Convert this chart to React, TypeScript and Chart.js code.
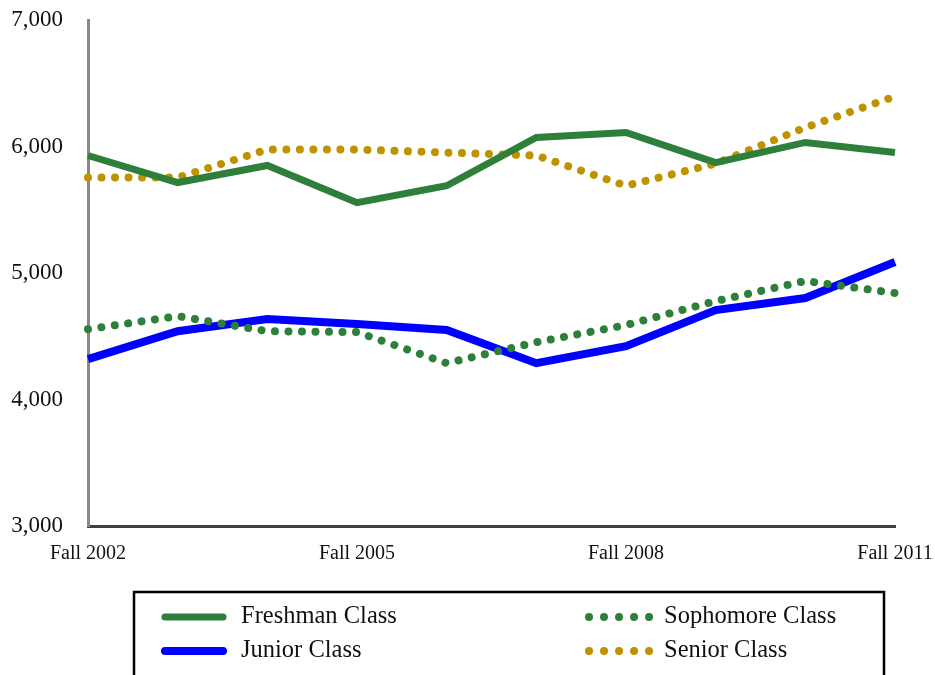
import React, { useEffect, useRef } from "react";
import { Chart, registerables } from "chart.js";

Chart.register(...registerables);

const categories = [
  "Fall 2002", "Fall 2003", "Fall 2004", "Fall 2005", "Fall 2006",
  "Fall 2007", "Fall 2008", "Fall 2009", "Fall 2010", "Fall 2011",
];
const freshman = [5929, 5715, 5850, 5556, 5690, 6071, 6111, 5873, 6032, 5952];
const sophomore = [4556, 4659, 4540, 4533, 4287, 4453, 4588, 4778, 4937, 4842];
const junior = [4319, 4540, 4636, 4596, 4549, 4287, 4422, 4707, 4802, 5087];
const senior = [5754, 5754, 5976, 5976, 5952, 5929, 5690, 5865, 6150, 6396];
const yTicks = [3000, 4000, 5000, 6000, 7000];
const shownXLabels = ["Fall 2002", "Fall 2005", "Fall 2008", "Fall 2011"];

const GREEN = "#2E7F3A";
const BLUE = "#0000FF";
const GOLD = "#BF9300";
const FONT = "'Liberation Serif', 'DejaVu Serif', serif";

const legendPlugin = {
  id: "boxLegend",
  afterDraw(chart: any) {
    const ctx = chart.ctx;
    ctx.save();
    ctx.strokeStyle = "#000";
    ctx.lineWidth = 2.5;
    ctx.strokeRect(134, 592, 750, 100);
    const pos = [
      { sx: 162, tx: 241, y: 617 },
      { sx: 586, tx: 664, y: 617 },
      { sx: 162, tx: 241, y: 651 },
      { sx: 586, tx: 664, y: 651 },
    ];
    [0, 1, 2, 3].forEach((di, i) => {
      const ds = chart.data.datasets[di];
      const p = pos[i];
      ctx.beginPath();
      ctx.strokeStyle = ds.borderColor;
      ctx.lineWidth = ds.borderWidth;
      ctx.lineCap = "round";
      if (ds.borderDash && ds.borderDash.length) {
        ctx.setLineDash([0.01, 15]);
        ctx.moveTo(p.sx + 3, p.y);
        ctx.lineTo(p.sx + 64, p.y);
      } else {
        ctx.setLineDash([]);
        ctx.moveTo(p.sx + 3, p.y);
        ctx.lineTo(p.sx + 61, p.y);
      }
      ctx.stroke();
      ctx.setLineDash([]);
      ctx.fillStyle = "#111";
      ctx.font = `24.5px ${FONT}`;
      ctx.textBaseline = "middle";
      ctx.textAlign = "left";
      ctx.fillText(ds.label, p.tx, p.y);
    });
    ctx.restore();
  },
};

export default function App() {
  const ref = useRef<HTMLCanvasElement | null>(null);
  useEffect(() => {
    document.body.style.margin = "0";
    const canvas = ref.current!;
    const chart = new Chart(canvas, {
      type: "line",
      data: {
        labels: categories,
        datasets: [
          {
            label: "Freshman Class",
            data: freshman,
            borderColor: GREEN,
            backgroundColor: GREEN,
            borderWidth: 7,
            pointRadius: 0,
            tension: 0,
            borderJoinStyle: "miter",
          },
          {
            label: "Sophomore Class",
            data: sophomore,
            borderColor: GREEN,
            backgroundColor: GREEN,
            borderWidth: 8,
            borderDash: [0.01, 13.5],
            borderCapStyle: "round",
            pointRadius: 0,
            tension: 0,
          },
          {
            label: "Junior Class",
            data: junior,
            borderColor: BLUE,
            backgroundColor: BLUE,
            borderWidth: 8,
            pointRadius: 0,
            tension: 0,
            borderJoinStyle: "miter",
          },
          {
            label: "Senior Class",
            data: senior,
            borderColor: GOLD,
            backgroundColor: GOLD,
            borderWidth: 8,
            borderDash: [0.01, 13.5],
            borderCapStyle: "round",
            pointRadius: 0,
            tension: 0,
          },
        ] as any,
      },
      options: {
        responsive: false,
        animation: false,
        devicePixelRatio: 1,
        layout: { padding: { top: 20, right: 40, left: 0, bottom: 0 } },
        plugins: {
          legend: { display: false },
          tooltip: { enabled: false },
        },
        scales: {
          x: {
            grid: { display: false },
            border: { display: true, color: "#404040", width: 3 },
            ticks: {
              autoSkip: false,
              maxRotation: 0,
              color: "#111",
              padding: 8,
              font: { family: FONT, size: 20 },
              callback: function (this: any, value: any, index: number) {
                const l = categories[index];
                return shownXLabels.includes(l) ? l : "";
              },
            },
            afterFit: (s: any) => {
              s.height = 149;
              s.paddingLeft = 0;
              s.paddingRight = 0;
            },
          },
          y: {
            min: 3000,
            max: 7000,
            grid: { display: false },
            border: { display: true, color: "#888888", width: 3 },
            afterBuildTicks: (s: any) => {
              s.ticks = yTicks.map((v) => ({ value: v }));
            },
            ticks: {
              color: "#111",
              padding: 17,
              font: { family: FONT, size: 23 },
              callback: (v: any) => Number(v).toLocaleString("en-US"),
            },
            afterFit: (s: any) => {
              s.width = 88;
              s.paddingTop = 0;
              s.paddingBottom = 0;
            },
          },
        },
      },
      plugins: [legendPlugin],
    });
    return () => chart.destroy();
  }, []);
  return (
    <div style={{ position: "fixed", left: 0, top: 0, width: 935, height: 675, background: "#fff" }}>
      <canvas ref={ref} width={935} height={675} style={{ display: "block" }} />
    </div>
  );
}
